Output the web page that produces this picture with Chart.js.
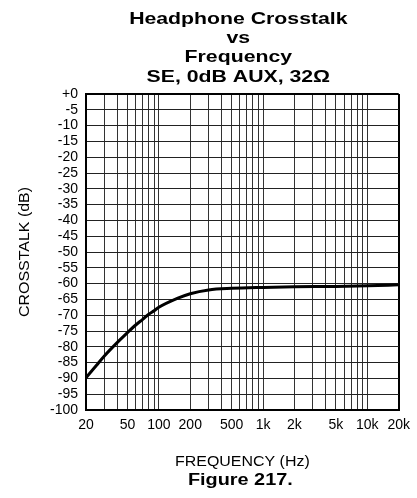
<!DOCTYPE html>
<html>
<head>
<meta charset="utf-8">
<script src="https://cdn.jsdelivr.net/npm/chart.js@4/dist/chart.umd.min.js"></script>
<style>
  html, body { margin: 0; padding: 0; background: #fff; }
  canvas { display: block; }
</style>
</head>
<body>
<canvas id="chart" width="417" height="498"></canvas>
<script>
// curve (Hz, dB)
const freqs = [20, 25, 30, 40, 50, 60, 70, 80, 90, 100, 150, 200, 300, 500, 1000, 2000, 5000, 10000, 20000]
const crosstalk = [-89.8, -86.0, -82.9, -78.6, -75.5, -73.1, -71.3, -69.7, -68.6, -67.5, -64.7, -63.2, -62.0, -61.5, -61.2, -61.0, -60.9, -60.7, -60.4]

// log grid lines and the ones that get a label
const gridFreqs = [20, 30, 40, 50, 60, 70, 80, 90, 100, 200, 300, 400, 500, 600, 700, 800, 900,
  1000, 2000, 3000, 4000, 5000, 6000, 7000, 8000, 9000, 10000, 20000]
const labelFreqs = [20, 50, 100, 200, 500, 1000, 2000, 5000, 10000, 20000]
const labelText = ['20', '50', '100', '200', '500', '1k', '2k', '5k', '10k', '20k']

const titleLines = ['Headphone Crosstalk', 'vs', 'Frequency', 'SE, 0dB AUX, 32Ω']
const xTitle = 'FREQUENCY (Hz)'
const yTitle = 'CROSSTALK (dB)'
const caption = 'Figure 217.'

const FONT = '"Liberation Sans", Arial, Helvetica, sans-serif'

// draws a line of text stretched horizontally like the scanned figure
function wideText (ctx, text, x, y, font, sx, rot) {
  ctx.save()
  ctx.translate(x, y)
  if (rot) ctx.rotate(rot)
  ctx.scale(sx, 1)
  ctx.font = font
  ctx.fillStyle = '#000'
  ctx.textAlign = 'center'
  ctx.textBaseline = 'middle'
  ctx.fillText(text, 0, 0)
  ctx.restore()
}

const textPlugin = {
  id: 'figureText',
  beforeDraw (chart) {
    const ctx = chart.ctx
    ctx.save()
    ctx.fillStyle = '#fff'
    ctx.fillRect(0, 0, chart.width, chart.height)
    ctx.restore()
  },
  afterDraw (chart) {
    const ctx = chart.ctx
    const area = chart.chartArea
    const cx = (area.left + area.right) / 2
    titleLines.forEach((t, i) => {
      wideText(ctx, t, cx - 4, 19 + i * 19.4, 'bold 17px ' + FONT, 1.25)
    })
    wideText(ctx, yTitle, 25, (area.top + area.bottom) / 2, '14px ' + FONT, 1.14, -Math.PI / 2)
    wideText(ctx, xTitle, cx, 462, '14px ' + FONT, 1.14)
    wideText(ctx, caption, cx - 2, 481, 'bold 16px ' + FONT, 1.24)
  }
}

const edge = (v, a, b) => (v === a || v === b)

new Chart(document.getElementById('chart'), {
  type: 'line',
  data: {
    datasets: [{
      data: freqs.map((f, i) => ({ x: f, y: crosstalk[i] })),
      borderColor: '#000',
      borderWidth: 3,
      pointRadius: 0,
      fill: false,
      cubicInterpolationMode: 'monotone'
    }]
  },
  options: {
    responsive: false,
    animation: false,
    layout: { padding: { top: 94, right: 16, left: 0, bottom: 0 } },
    plugins: { legend: { display: false }, tooltip: { enabled: false } },
    scales: {
      x: {
        type: 'logarithmic',
        min: 20,
        max: 20000,
        afterBuildTicks: s => { s.ticks = gridFreqs.map(v => ({ value: v })) },
        afterFit: s => { s.height = 88 },
        ticks: {
          autoSkip: false,
          maxRotation: 0,
          minRotation: 0,
          padding: 7,
          color: '#000',
          font: { family: FONT, size: 14 },
          callback: v => {
            const i = labelFreqs.indexOf(v)
            return i < 0 ? '' : labelText[i]
          }
        },
        grid: {
          drawTicks: false,
          color: c => edge(c.tick && c.tick.value, 20, 20000) ? '#000' : '#333',
          lineWidth: c => edge(c.tick && c.tick.value, 20, 20000) ? 2 : 1
        },
        border: { color: '#000', width: 2 }
      },
      y: {
        min: -100,
        max: 0,
        afterFit: s => { s.width = 86 },
        ticks: {
          stepSize: 5,
          autoSkip: false,
          padding: 8,
          color: '#000',
          font: { family: FONT, size: 14 },
          callback: v => v === 0 ? '+0' : String(v)
        },
        grid: {
          drawTicks: false,
          color: c => edge(c.tick && c.tick.value, -100, 0) ? '#000' : '#222',
          lineWidth: c => edge(c.tick && c.tick.value, -100, 0) ? 2 : 1
        },
        border: { color: '#000', width: 2 }
      }
    }
  },
  plugins: [textPlugin]
})
</script>
</body>
</html>
